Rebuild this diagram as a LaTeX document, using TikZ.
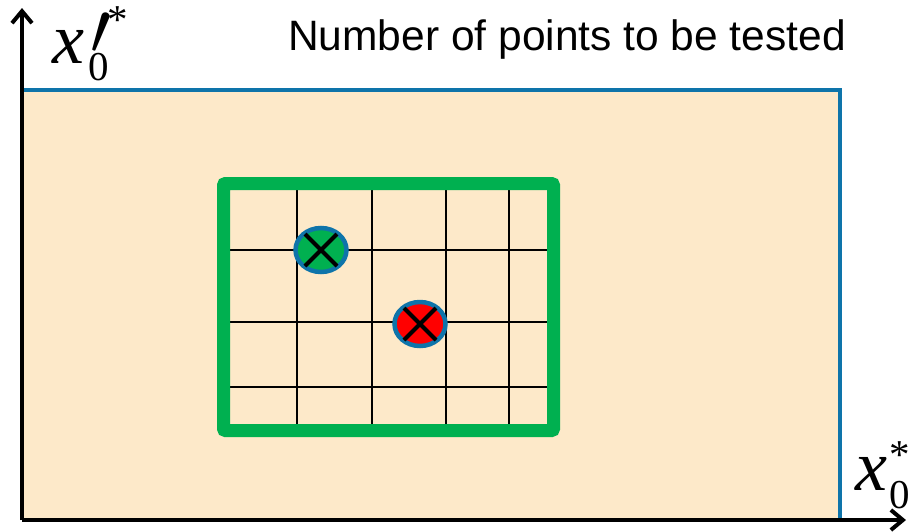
\documentclass[tikz,border=0pt]{standalone}
\usepackage{fontspec}
\setmainfont{Liberation Sans}
\newfontfamily\tnr{Liberation Serif}
\usetikzlibrary{arrows.meta,shapes.geometric}
\definecolor{peach}{RGB}{253,233,201}
\definecolor{frameblue}{RGB}{14,116,170}
\definecolor{boxgreen}{RGB}{0,176,80}

\begin{document}
\begin{tikzpicture}[x=1pt, y=-1pt,
		gridline/.style={line width=1.6pt, black},
		dot/.style={ellipse, draw=frameblue, line width=4.5pt, minimum width=51pt, minimum height=44pt, inner sep=0pt},
		cross/.style={line width=4pt, black},
		axislabel/.style={anchor=base west, inner sep=0pt, font=\tnr\fontsize{72}{72}\selectfont}]
		\useasboundingbox (0,0) rectangle (920,531);
		\fill[peach] (22,90) rectangle (840,520);
		\draw[line width=4pt, frameblue] (22,90) -- (840,90) -- (840,520);
		% grid
		\foreach \gx in {297,372,446,509}
			\draw[gridline] (\gx,188) -- (\gx,431);
		\foreach \gy in {250,322,387}
			\draw[gridline] (224,\gy) -- (554,\gy);
		\draw[line width=13pt, boxgreen, rounded corners=2pt] (223.5,183.5) rectangle (553.5,430.5);
		% tested points
		\node[dot, fill=boxgreen] (good) at (321,250){};
		\node[dot, fill=red] (bad) at (420,324){};
		\draw[cross] ([shift={(-16,-16)}]good.center) -- ([shift={(16,16)}]good.center);
		\draw[cross] ([shift={(-16,16)}]good.center) -- ([shift={(16,-16)}]good.center);
		\draw[cross] ([shift={(-16,-16)}]bad.center) -- ([shift={(16,16)}]bad.center);
		\draw[cross] ([shift={(-16,16)}]bad.center) -- ([shift={(16,-16)}]bad.center);
		% axes
		\coordinate (o) at (22,520);
		\coordinate (ytip) at (22,8);
		\coordinate (xtip) at (906,520);
		\draw[line width=4pt, -{Straight Barb[length=12pt, width=20pt, line width=4pt]}] (o) -- (ytip);
		\draw[line width=4pt, -{Straight Barb[length=12pt, width=20pt, line width=4pt]}] (o) -- (xtip);
		\node[axislabel] (ylab) at (52,63){\itshape x\upshape\fontsize{41}{41}\selectfont\rlap{\kern4pt\raisebox{-17pt}{0}}\rlap{\kern6pt\raisebox{9pt}{\scalebox{3}{$\prime$}}}\kern23pt\raisebox{30pt}{*}};
		\node[axislabel] (xlab) at (855,490){\itshape x\upshape\fontsize{41}{41}\selectfont\rlap{\kern2pt\raisebox{-18pt}{0}}\kern2pt\raisebox{22pt}{*}};
		\node[anchor=base east, inner sep=0pt, font=\fontsize{42.5}{42.5}\selectfont] (title) at (846,50){Number of points to be tested};
\end{tikzpicture}
\end{document}
